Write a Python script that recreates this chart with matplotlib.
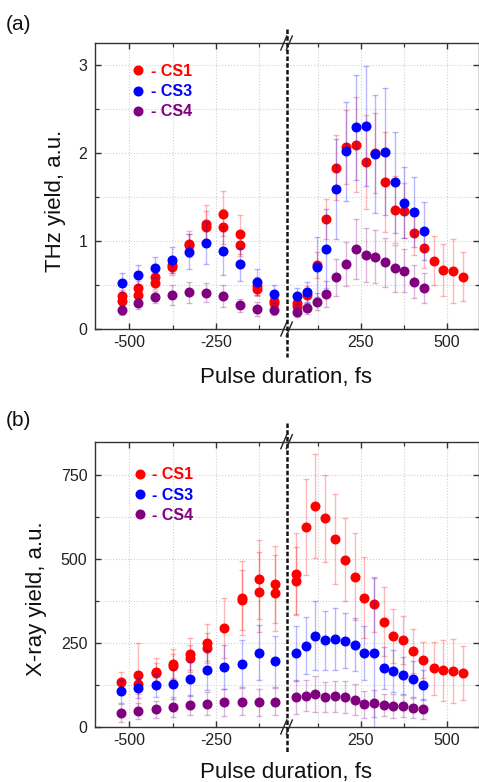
import matplotlib
matplotlib.use("Agg")
import matplotlib.pyplot as plt
from matplotlib.lines import Line2D

plt.rcParams['font.family'] = ['Liberation Sans', 'DejaVu Sans']
plt.rcParams['axes.unicode_minus'] = False

# ---------------- data: panel (a) THz yield ----------------
a_x = [-522, -476, -426, -378, -328, -279, -230, -181, -133, -84,
       63, 92, 121, 149, 178, 206, 235, 264, 292, 320, 348, 376, 406, 434]
a_cs3_y = [0.527, 0.614, 0.694, 0.781, 0.88, 0.978, 0.887, 0.736, 0.535, 0.398,
           0.375, 0.421, 0.70, 0.914, 1.589, 2.02, 2.29, 2.306, 1.99, 2.014, 1.665, 1.437, 1.331, 1.111]
a_cs3_err = [0.11, 0.11, 0.12, 0.15, 0.2, 0.24, 0.27, 0.19, 0.15, 0.1,
             0.09, 0.11, 0.34, 0.45, 0.57, 0.565, 0.6, 0.68, 0.67, 0.72, 0.57, 0.4, 0.4, 0.33]
a_cs4_y = [0.216, 0.292, 0.364, 0.387, 0.417, 0.413, 0.375, 0.27, 0.227, 0.216,
           0.197, 0.235, 0.311, 0.40, 0.588, 0.743, 0.91, 0.842, 0.82, 0.759, 0.69, 0.664, 0.538, 0.462]
a_cs4_err = [0.06, 0.065, 0.07, 0.11, 0.12, 0.11, 0.13, 0.076, 0.08, 0.06,
             0.06, 0.06, 0.1, 0.15, 0.21, 0.25, 0.34, 0.31, 0.3, 0.28, 0.27, 0.24, 0.19, 0.17]
a_cs1_x = [-522, -522, -476, -476, -426, -426, -378, -378, -328, -328, -279, -279,
           -230, -230, -181, -181, -133, -133, -84, -84,
           63, 63, 92, 121, 149, 178, 206, 235, 264, 292, 320, 348, 376, 406, 434, 462, 490, 518, 548]
a_cs1_y = [0.375, 0.318, 0.47, 0.39, 0.588, 0.527, 0.728, 0.709, 0.967, 0.956, 1.19, 1.164,
           1.312, 1.164, 1.077, 0.956, 0.49, 0.46, 0.318, 0.30,
           0.292, 0.265, 0.39, 0.728, 1.248, 1.835, 2.067, 2.093, 1.9, 2.0, 1.669, 1.357, 1.346,
           1.096, 0.921, 0.777, 0.671, 0.66, 0.595]
a_cs1_err = [0.07, 0.08, 0.08, 0.07, 0.07, 0.07, 0.09, 0.1, 0.15, 0.12, 0.22, 0.18,
             0.26, 0.2, 0.22, 0.13, 0.1, 0.08, 0.06, 0.05,
             0.08, 0.07, 0.1, 0.15, 0.23, 0.37, 0.42, 0.54, 0.535, 0.45, 0.57, 0.38, 0.31,
             0.25, 0.23, 0.28, 0.3, 0.36, 0.28]

# ---------------- data: panel (b) X-ray yield ----------------
b_x = [-524, -474, -424, -375, -326, -276, -226, -176, -127, -79,
       60, 89, 117, 145, 174, 203, 232, 260, 288, 316, 344, 372, 402, 430]
b_cs3_y = [106, 117, 124, 129, 142.8, 169.6, 177.6, 188.4, 221, 195.5,
           219, 242, 271.7, 258, 263, 257, 245, 220, 220, 175.6, 167.6, 153.8, 142, 124]
b_cs3_err = [35, 30, 35, 45, 50, 60, 65, 70, 82, 76,
             82, 84, 103, 87, 92, 82, 78, 80, 222, 62, 62, 55, 53, 45]
b_cs4_y = [42.6, 47.6, 52.6, 58.5, 64.5, 69.4, 73.4, 75.4, 73.4, 75.4,
           89.3, 93.2, 98.2, 90.2, 91.3, 89.3, 81.3, 67.5, 70.4, 65.5, 62.5, 62, 56.5, 53.6]
b_cs4_err = [27, 25, 25, 30, 30, 35, 40, 40, 40, 40,
             52, 47, 54, 45, 47, 48, 47, 40, 40, 33, 35, 33, 30, 30]
b_cs1_x = [-524, -474, -474, -424, -424, -375, -375, -326, -326, -276, -276, -226,
           -176, -176, -127, -127, -79, -79,
           60, 60, 89, 117, 145, 174, 203, 232, 260, 288, 316, 344, 372, 402, 430, 462, 490, 519, 548]
b_cs1_y = [134.8, 154.8, 127, 164.6, 161.6, 186.6, 181.5, 216.3, 204.4, 251, 236, 293.7,
           384, 378, 439.5, 401.8, 424.6, 398.8,
           456, 434.5, 595, 656.8, 621, 559.5, 498, 447, 384.8, 365, 313.4, 270, 259, 227,
           198.4, 174.7, 168.7, 166.7, 159.8]
b_cs1_err = [30, 96, 30, 40, 30, 45, 35, 48, 40, 55, 45, 89,
             110, 90, 117, 120, 115, 113,
             120, 100, 142, 155, 129, 133, 123, 129, 120, 82, 103, 80, 72, 65,
             54, 79, 90, 96, 80]

series_labels = ['- CS1', '- CS3', '- CS4']
series_colors = ['#ff0000', '#0000ff', '#800080']

left_ticks = [-500, -250]
left_minor = [-375, -125]
right_ticks = [250, 500]
right_minor = [125, 375]
left_lim = (-599, -44.4)
right_lim = (35, 593)

W, H = 479, 782
fig = plt.figure(figsize=(W / 100, H / 100), dpi=100)

XL, XB, XR = 95, 287.3, 478.5


def fx(px):
    return px / W


def fy(py):
    return 1 - py / H


def make_panel(top, bottom, yticks, yminor, ylim, xs, cs1x, cs1y, cs1e, cs3y, cs3e, cs4y, cs4e,
               ylabel, ylab_pos, panel_label, plab_pos, leg_anchor, dash_span, xlab_y):
    h = (bottom - top) / H
    axl = fig.add_axes([fx(XL), fy(bottom), (XB - XL) / W, h])
    axr = fig.add_axes([fx(XB), fy(bottom), (XR - XB) / W, h])
    for ax, lim, mj, mn in ((axl, left_lim, left_ticks, left_minor),
                            (axr, right_lim, right_ticks, right_minor)):
        ax.set_xlim(*lim)
        ax.set_ylim(*ylim)
        ax.set_xticks(mj)
        ax.set_xticks(mn, minor=True)
        ax.set_yticks(yticks)
        ax.set_yticks(yminor, minor=True)
        ax.grid(True, which='both', color='#d0d0d0', linestyle=':', linewidth=0.8)
        ax.set_axisbelow(True)
        for s in ax.spines.values():
            s.set_color('#333333')
            s.set_linewidth(1.0)
        ax.tick_params(which='both', direction='in', top=True, bottom=True,
                       colors='#333333', labelcolor='#222222', labelsize=11.5)
        ax.tick_params(which='major', length=4.5, width=1)
        ax.tick_params(which='minor', length=3, width=0.9)
        ax.tick_params(axis='x', pad=4.5)
        ax.tick_params(axis='y', pad=5.5)
        # data
        eb = dict(fmt='o', ms=6.2, elinewidth=1.0, capsize=2.2, capthick=1.0, linestyle='none')
        ax.errorbar(cs1x, cs1y, yerr=cs1e, color=series_colors[0], ecolor='#ff0000',
                    **eb, zorder=3)
        ax.errorbar(xs, cs3y, yerr=cs3e, color=series_colors[1], ecolor='#0000ff',
                    **eb, zorder=4)
        ax.errorbar(xs, cs4y, yerr=cs4e, color=series_colors[2], ecolor='#800080',
                    **eb, zorder=5)
        for c in ax.containers:
            for coll in c[2]:
                coll.set_alpha(0.28)
            for cap in c[1]:
                cap.set_alpha(0.28)
    axl.spines['right'].set_visible(False)
    axr.spines['left'].set_visible(False)
    axl.tick_params(which='both', left=True, right=False)
    axr.tick_params(which='both', left=False, right=True, labelleft=False, labelright=False)

    handles = [Line2D([], [], marker='o', ls='none', color=c, ms=6.2) for c in series_colors]
    leg = axl.legend(handles, series_labels, loc='upper left', bbox_to_anchor=leg_anchor,
                     frameon=False, borderpad=0, borderaxespad=0, handlelength=0.8,
                     handletextpad=0.4, labelspacing=0.33,
                     prop={'weight': 'bold', 'size': 11.5})
    for t, c in zip(leg.get_texts(), series_colors):
        t.set_color(c)

    # dashed break line
    fig.add_artist(Line2D([fx(XB), fx(XB)], [fy(dash_span[0]), fy(dash_span[1])],
                          color='#111111', lw=1.8, dashes=(1.8, 0.9), zorder=10))
    # break marks
    for yy in (top, bottom):
        for dx in (-3.5, 2.0):
            fig.add_artist(Line2D([fx(XB + dx - 3), fx(XB + dx + 3)],
                                  [fy(yy + 7), fy(yy - 7)], color='#222222', lw=1.0, zorder=11))

    fig.text(fx(ylab_pos[0]), fy(ylab_pos[1]), ylabel, rotation=90, ha='center', va='center',
             fontsize=16, color='#111111')
    fig.text(fx(286.5), fy(xlab_y), 'Pulse duration, fs', ha='center', va='baseline',
             fontsize=16, color='#111111')
    fig.text(fx(plab_pos[0]), fy(plab_pos[1]), panel_label, ha='left', va='center',
             fontsize=15, color='#111111')


make_panel(43, 329, [0, 1, 2, 3], [0.5, 1.5, 2.5], (0, 3.25), a_x,
           a_cs1_x, a_cs1_y, a_cs1_err, a_cs3_y, a_cs3_err, a_cs4_y, a_cs4_err,
           'THz yield, a.u.', (56, 201), '(a)', (6, 24.5), (0.189, 0.927), (29, 357), 382.7)
make_panel(441.7, 727, [0, 250, 500, 750], [125, 375, 625], (0, 849), b_x,
           b_cs1_x, b_cs1_y, b_cs1_err, b_cs3_y, b_cs3_err, b_cs4_y, b_cs4_err,
           'X-ray yield, a.u.', (37, 599), '(b)', (6, 420), (0.199, 0.910), (423, 753), 778.3)

fig.savefig('out.png', dpi=100)
